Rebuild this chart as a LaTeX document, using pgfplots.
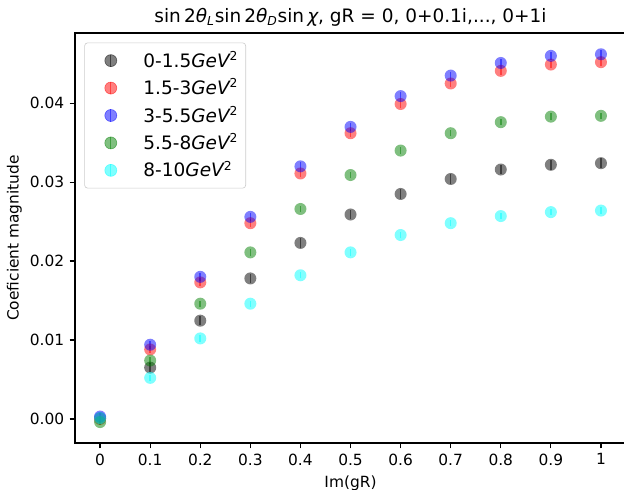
\documentclass[border=0pt]{standalone}
\usepackage{fontspec}
\setmainfont{DejaVu Sans}
\usepackage{pgfplots}
\usepackage{pgfplotstable}
\pgfplotsset{compat=1.18}

\definecolor{mplgreen}{HTML}{008000}
\definecolor{mplcyan}{HTML}{00FFFF}
\definecolor{mplred}{HTML}{FF0000}
\definecolor{mplblue}{HTML}{0000FF}

% legend handle: marker with a short vertical error line
\pgfplotsset{
  errleg/.style={legend image code/.code={
      \path (0,0) (33pt,0);
      \fill[#1, opacity=0.5] (12pt,0) circle (3.9pt);
      \draw[#1, opacity=0.5, line width=0.8pt] (12pt,-3.9pt) -- (12pt,3.9pt);}},
  dots/.style={only marks, mark=*, mark size=3.9pt, color=#1,
      mark options={draw opacity=0, fill=#1, fill opacity=0.5},
      error bars/error bar style={#1, opacity=0.5, line width=1pt},
      errleg=#1},
}

% x index: 0 -> Im(gR)=0, 1 -> 0.1, ... ; y value, error
\pgfplotstableread{
x y e
0 0.0001 0.0006
1 0.0065 0.0006
2 0.01245 0.0006
3 0.0178 0.0006
4 0.0223 0.0006
5 0.0259 0.0006
6 0.0285 0.0006
7 0.0304 0.0006
8 0.0316 0.0006
9 0.0322 0.0006
10 0.0324 0.0006
}\tblA
\pgfplotstableread{
x y e
0 0.0000 0.0005
1 0.0088 0.0005
2 0.0173 0.0005
3 0.0248 0.0005
4 0.0311 0.0005
5 0.0362 0.0005
6 0.0399 0.0005
7 0.0425 0.0005
8 0.0441 0.0005
9 0.0449 0.0005
10 0.0452 0.0005
}\tblB
\pgfplotstableread{
x y e
0 0.0003 0.0005
1 0.0094 0.0005
2 0.0180 0.0005
3 0.0256 0.0005
4 0.0320 0.0005
5 0.0370 0.0005
6 0.0409 0.0005
7 0.0435 0.0005
8 0.0451 0.0005
9 0.0460 0.0005
10 0.0462 0.0005
}\tblC
\pgfplotstableread{
x y e
0 -0.0004 0.0004
1 0.0074 0.0004
2 0.0146 0.0004
3 0.0211 0.0004
4 0.0266 0.0004
5 0.0309 0.0004
6 0.0340 0.0004
7 0.0362 0.0004
8 0.0376 0.0004
9 0.0383 0.0004
10 0.0384 0.0004
}\tblD
\pgfplotstableread{
x y e
0 0.0001 0.0004
1 0.0052 0.0004
2 0.0102 0.0004
3 0.0146 0.0004
4 0.0182 0.0004
5 0.0211 0.0004
6 0.0233 0.0004
7 0.0248 0.0004
8 0.0257 0.0004
9 0.0262 0.0004
10 0.0264 0.0004
}\tblE

\begin{document}
\begin{tikzpicture}
\begin{axis}[
    scale only axis,
    width=357.5pt, height=266pt,
    xmin=-0.5, xmax=10.5,
    ymin=-0.00304, ymax=0.0489,
    xtick={0,...,10},
    xticklabels={0,0.1,0.2,0.3,0.4,0.5,0.6,0.7,0.8,0.9,1},
    ytick={0,0.01,0.02,0.03,0.04},
    yticklabel style={/pgf/number format/.cd, fixed, fixed zerofill, precision=2},
    scaled y ticks=false,
    /pgf/number format/assume math mode=true,
    tick align=outside, xtick pos=bottom, ytick pos=left,
    major tick length=3.5pt,
    tick style={line width=0.8pt, black},
    axis line style={line width=0.8pt},
    ticklabel style={font=\fontsize{10}{12}\selectfont},
    xlabel={Im(gR)}, ylabel={Coeficient magnitude},
    label style={font=\fontsize{10}{12}\selectfont},
    ylabel style={at={([xshift=-34.4pt]axis description cs:0,0.5)}, anchor=south, inner sep=0pt},
    title={sin\,2{\itshape θ}\textsubscript{\itshape L}sin\,2{\itshape θ}\textsubscript{\itshape D}sin\,{\itshape χ}, gR = 0, 0+0.1i,..., 0+1i},
    title style={font=\fontsize{12}{14}\selectfont, at={(axis description cs:0.5,1)}, anchor=south, inner sep=0pt, yshift=-1.8pt},
    legend style={at={(axis description cs:0,1)}, anchor=north west, xshift=6pt, yshift=-6.2pt,
        draw=black!20, rounded corners=2pt, font=\fontsize{12}{14}\selectfont,
        inner xsep=4.8pt, inner ysep=4.8pt, row sep=4.3pt,
        nodes={inner xsep=0pt, inner ysep=0pt, text height=11pt, text depth=2.5pt}},
    legend cell align=left,
    error bars/y dir=both, error bars/y explicit,
    error bars/error mark=none,
]
\addplot[dots=black] table[x=x, y=y, y error=e] {\tblA};
\addlegendentry{0-1.5{\itshape GeV}\textsuperscript{2}}
\addplot[dots=mplred] table[x=x, y=y, y error=e] {\tblB};
\addlegendentry{1.5-3{\itshape GeV}\textsuperscript{2}}
\addplot[dots=mplblue] table[x=x, y=y, y error=e] {\tblC};
\addlegendentry{3-5.5{\itshape GeV}\textsuperscript{2}}
\addplot[dots=mplgreen] table[x=x, y=y, y error=e] {\tblD};
\addlegendentry{5.5-8{\itshape GeV}\textsuperscript{2}}
\addplot[dots=mplcyan] table[x=x, y=y, y error=e] {\tblE};
\addlegendentry{8-10{\itshape GeV}\textsuperscript{2}}
\end{axis}
\pgfresetboundingbox
\path ([xshift=-48.7pt,yshift=-30.3pt]current axis.south west)
  rectangle ([xshift=-1.3pt,yshift=21.4pt]current axis.north east);
\end{tikzpicture}
\end{document}
